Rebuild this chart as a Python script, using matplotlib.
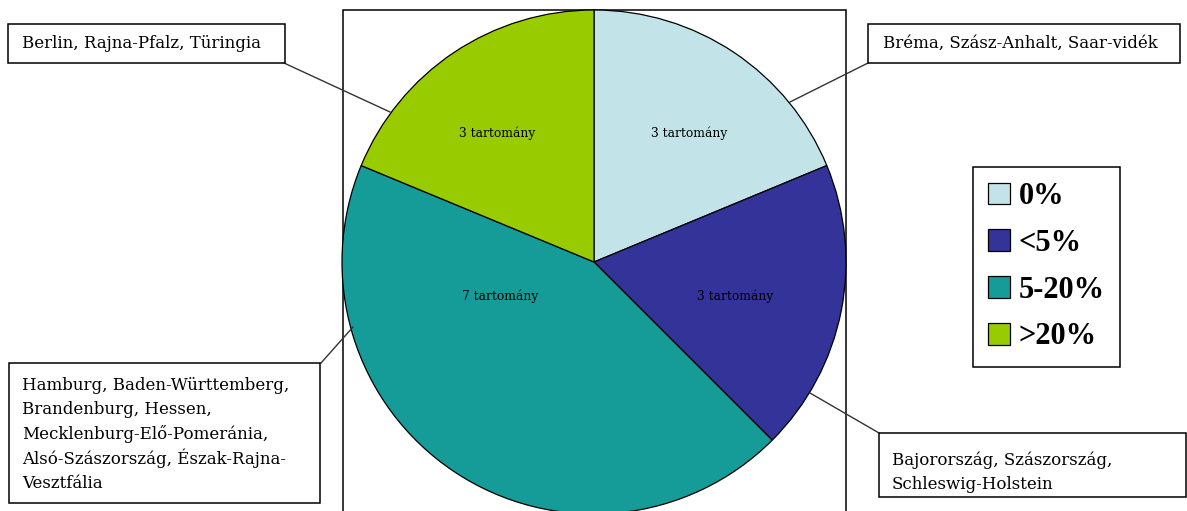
import matplotlib
matplotlib.use("Agg")
import matplotlib.pyplot as plt
from matplotlib.patches import Rectangle

# Share of German federal states by category
categories = ['0%', '<5%', '5-20%', '>20%']
counts = [3, 3, 7, 3]
colors = ['#C2E4E8', '#333399', '#169C98', '#99CC00']
state_groups = [
    ['Bréma, Szász-Anhalt, Saar-vidék'],
    ['Bajorország, Szászország,', 'Schleswig-Holstein'],
    ['Hamburg, Baden-Württemberg,', 'Brandenburg, Hessen,',
     'Mecklenburg-Elő-Pomeránia,', 'Alsó-Szászország, Észak-Rajna-',
     'Vesztfália'],
    ['Berlin, Rajna-Pfalz, Türingia'],
]

W, H = 1187, 511


def P(x, y):
    """Pixel position (origin top-left) -> axes data coordinates."""
    return (x, H - y)


fig = plt.figure(figsize=(W / 100, H / 100), dpi=100)
ax = fig.add_axes([0, 0, 1, 1])

cx, cy = P(594, 262)
wedges, _ = ax.pie(counts, colors=colors, startangle=90, counterclock=False,
                   center=(cx, cy), radius=252, frame=True,
                   wedgeprops=dict(edgecolor='black', linewidth=0.9))
ax.set_xlim(0, W)
ax.set_ylim(0, H)
ax.axis('off')

# plot-area frame around the pie
ax.add_patch(Rectangle(P(343, 522), 503, 512, fill=False,
                       edgecolor='black', linewidth=1.1, zorder=0))

serif = 'DejaVu Serif'

# counts inside each slice
slice_pos = [(689, 133), (735, 296), (500, 296), (497, 133)]
for n, (x, y) in zip(counts, slice_pos):
    ax.text(*P(x, y), f'{n} tartomány', family=serif, fontsize=8.8,
            ha='center', va='center', zorder=5)

# callout boxes: (box left, top, right, bottom, text x, first line y, anchor on box, anchor on pie)
callouts = [
    (868, 24, 1180, 63, 883, 43, (868, 63), (790, 102)),
    (879, 433, 1186, 497, 892, 460, (879, 433), (810, 393)),
    (9, 363, 320, 503, 22, 385, (321, 363), (353, 327)),
    (8, 24, 285, 63, 22, 43, (284, 63), (390, 112)),
]
line_step = 24.5
for lines, (l, t, r, b, tx, ty, a1, a2) in zip(state_groups, callouts):
    ax.plot([P(*a1)[0], P(*a2)[0]], [P(*a1)[1], P(*a2)[1]],
            color='#333333', linewidth=1.0, zorder=3)
    ax.add_patch(Rectangle(P(l, b), r - l, b - t, facecolor='white',
                           edgecolor='black', linewidth=1.1, zorder=4))
    for i, s in enumerate(lines):
        ax.text(*P(tx, ty + i * line_step), s, family=serif, fontsize=12,
                ha='left', va='center', zorder=5)

leg = ax.legend(wedges, categories, loc='upper left',
                bbox_to_anchor=(973 / W, 1 - 167 / H), borderaxespad=0,
                prop=dict(family='Liberation Serif', weight='bold', size=22),
                frameon=True, fancybox=False, framealpha=1,
                edgecolor='black', borderpad=0.5, labelspacing=0.58,
                handlelength=0.72, handleheight=0.72, handletextpad=0.28)
leg.get_frame().set_linewidth(1.1)

fig.savefig('out.png', dpi=100, facecolor='white')
